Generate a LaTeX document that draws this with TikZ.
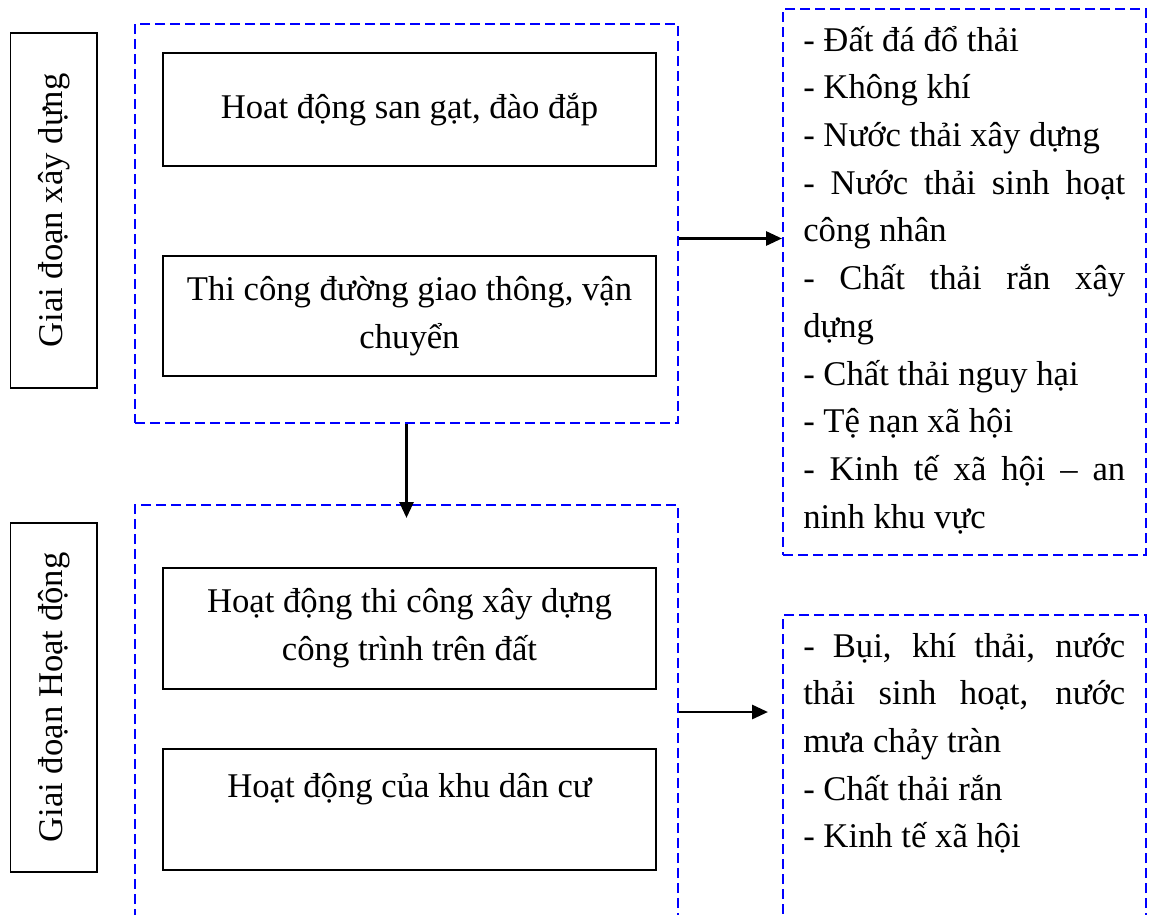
\documentclass[tikz,border=0pt]{standalone}
\usepackage{fontspec}
\setmainfont{Liberation Serif}
\usetikzlibrary{arrows.meta,calc}
\begin{document}
\begin{tikzpicture}[x=0.75pt,y=-0.75pt,
  dashbox/.style={draw=blue, line width=1.5pt, dash pattern=on 7.5pt off 3.75pt, inner sep=0pt, minimum width=407.25pt},
  listbox/.style={dashbox, minimum width=272.25pt},
  sidebox/.style={draw=black, line width=1.4pt, rotate=90, inner sep=0pt, minimum height=64.9pt, font=\fontsize{26}{35.8}\selectfont},
  actbox/.style={draw=black, line width=1.4pt, inner sep=0pt, minimum width=369.75pt, align=center, font=\fontsize{26}{35.8}\selectfont},
  listtext/.style={anchor=base west, inner sep=0pt},
  conn/.style={line width=2.2pt, -{Triangle[length=12pt,width=10.5pt]}}
]
\clip (0,0) rectangle (1149,914);
% containers
\node[dashbox, minimum height=299.25pt] (d1) at (406.5,223.5) {};
\node[dashbox, minimum height=322.5pt] (d2) at (406.5,720) {};
\node[listbox, minimum height=409.5pt] (l1) at (964.5,282) {};
\node[listbox, minimum height=240pt] (l2) at (964.5,775) {};
% side labels
\node[sidebox, minimum width=266.25pt] (s1) at (53.75,210.5) {Giai đoạn xây dựng};
\node[sidebox, minimum width=261.75pt] (s2) at (53.75,697.5) {Giai đoạn Hoạt động};
% activity boxes
\node[actbox, minimum height=84.75pt] (a1) at (409.5,109.5) {Hoat động san gạt, đào đắp};
\node[actbox, minimum height=90pt] (a2) at (409.5,316) {Thi công đường giao thông, vận\\chuyển};
\node[actbox, minimum height=90.75pt] (a3) at (409.5,628.5) {Hoạt động thi công xây dựng\\công trình trên đất};
\node[actbox, minimum height=90.75pt] (a4) at (409.5,809.5) {Hoạt động của khu dân cư\\\mbox{}};
% impact lists
\node[listtext] (t1) at (803,51) {\parbox[t]{241.5pt}{\fontsize{26}{35.8}\selectfont
- Đất đá đổ thải\\
- Không khí\\
- Nước thải xây dựng\\
\makebox[\linewidth][s]{- Nước thải sinh hoạt}\\
công nhân\\
\makebox[\linewidth][s]{- Chất thải rắn xây}\\
dựng\\
- Chất thải nguy hại\\
- Tệ nạn xã hội\\
\makebox[\linewidth][s]{- Kinh tế xã hội – an}\\
ninh khu vực}};
\node[listtext] (t2) at (803,657) {\parbox[t]{241.5pt}{\fontsize{26}{35.8}\selectfont
\makebox[\linewidth][s]{- Bụi, khí thải, nước}\\
\makebox[\linewidth][s]{thải sinh hoạt, nước}\\
mưa chảy tràn\\
- Chất thải rắn\\
- Kinh tế xã hội}};
% connectors
\draw[conn] (d1.south) -- ($(d2.north)+(0,14)$);
\draw[conn] ($(d1.east)+(0,15)$) -- ($(d1.east -| l1.west)+(0,15)$);
\draw[conn] ($(d2.east)+(0,-8)$) -- ($(d2.east -| l2.west)+(-14,-8)$);
\end{tikzpicture}
\end{document}
